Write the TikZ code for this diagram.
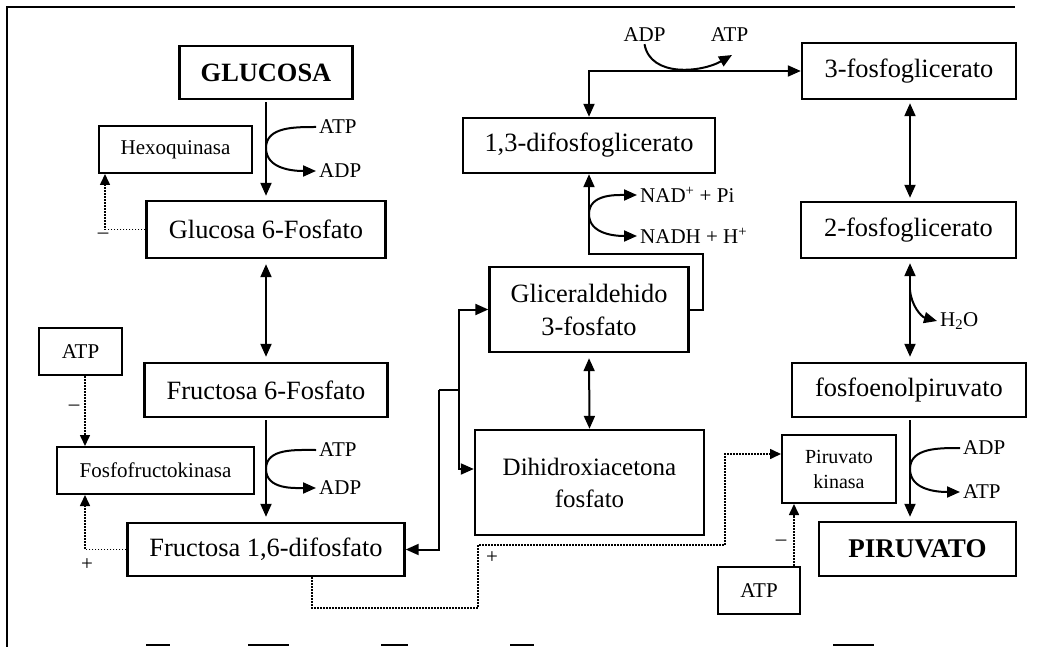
\documentclass[tikz,border=0pt]{standalone}
\usepackage{fontspec}
\setmainfont{Liberation Serif}
\usetikzlibrary{arrows.meta,calc}
\newcommand\fbig{\fontsize{26.4}{33}\selectfont}
\newcommand\fsml{\fontsize{21}{25}\selectfont}
\begin{document}
\begin{tikzpicture}[x=1pt,y=-1pt,
  box/.style={draw, line width=2.4pt, inner sep=0pt, align=center, font=\fbig},
  sbox/.style={draw, line width=2pt, inner sep=0pt, align=center, font=\fsml},
  lbl/.style={font=\fsml, inner xsep=3pt, inner ysep=0pt, anchor=west},
  txt/.style={font=\fsml, inner sep=1pt},
  ln/.style={line width=2pt},
  arr/.style={line width=2pt, -{Triangle[length=13pt,width=11pt]}},
  darr/.style={line width=2pt, {Triangle[length=13pt,width=11pt]}-{Triangle[length=13pt,width=11pt]}},
  dotarr/.style={line width=1.6pt, dash pattern=on 1.6pt off 1.4pt, -{Triangle[length=11pt,width=10pt]}}
]
\useasboundingbox (0,0) rectangle (1063,647);
% frame (scan edges)
\draw[line width=2pt] (7,647) -- (7,7) -- (1015,7);
\foreach \a/\b in {146/170,248/289,381/408,510/534,833/874}
  \draw[line width=2.5pt] (\a,645) -- (\b,645);

% ---------- left column ----------
\node[box, minimum width=173pt, minimum height=53pt, font=\fbig\bfseries] (GLU) at (266,72.5) {GLUCOSA};
\node[sbox, minimum width=153pt, minimum height=47pt] (HEX) at (175.5,149.5) {Hexoquinasa};
\node[box, minimum width=239pt, minimum height=57pt] (G6P) at (266,229.5) {Glucosa 6-Fosfato};
\node[sbox, minimum width=83pt, minimum height=47pt] (ATP1) at (80.5,351.5) {ATP};
\node[box, minimum width=243pt, minimum height=54pt] (F6P) at (266,390) {Fructosa 6-Fosfato};
\node[sbox, minimum width=197pt, minimum height=47pt] (PFK) at (155.5,470.5) {Fosfofructokinasa};
\node[box, minimum width=277pt, minimum height=53pt] (F16) at (266,549.5) {Fructosa 1,6-difosfato};

% ---------- middle column ----------
\node[box, minimum width=252pt, minimum height=55pt] (DPG) at (589,145.5) {1,3-difosfoglicerato};
\node[box, minimum width=199pt, minimum height=85pt] (G3P) at (589,309.5) {Gliceraldehido\\3-fosfato};
\node[box, minimum width=229pt, minimum height=105pt, font=\fontsize{25}{32}\selectfont] (DHAP) at (589.5,482.5) {Dihidroxiacetona\\fosfato};

% ---------- right column ----------
\node[box, minimum width=214pt, minimum height=56pt] (PG3) at (909,71) {3-fosfoglicerato};
\node[box, minimum width=215pt, minimum height=56pt] (PG2) at (908.5,230) {2-fosfoglicerato};
\node[box, minimum width=234pt, minimum height=54pt] (PEP) at (909,390) {fosfoenolpiruvato};
\node[sbox, minimum width=114pt, minimum height=68pt, font=\fontsize{20}{25}\selectfont] (PK) at (839,469) {Piruvato\\kinasa};
\node[sbox, minimum width=82pt, minimum height=47pt] (ATP2) at (759,590.5) {ATP};
\node[box, minimum width=197pt, minimum height=54pt, font=\fontsize{27}{33}\selectfont\bfseries] (PIR) at (917.5,549) {PIRUVATO};

% ---------- labels ----------
\node[lbl] (ATPa) at (316,127) {ATP};
\node[lbl] (ADPa) at (316,171) {ADP};
\node[lbl] (ATPb) at (316,450) {ATP};
\node[lbl] (ADPb) at (316,488) {ADP};
\node[lbl] (NADa) at (637,195) {NAD\textsuperscript{+} + Pi};
\node[lbl] (NADb) at (637,236) {NADH + H\textsuperscript{+}};
\node[txt, inner sep=2pt] (ADPt) at (644.5,35) {ADP};
\node[txt, inner sep=2pt] (ATPt) at (729.5,35) {ATP};
\node[lbl] (H2O) at (937,321) {H\textsubscript{2}O};
\node[lbl] (ADPc) at (960,448) {ADP};
\node[lbl] (ATPc) at (960,492) {ATP};
\node[txt] (m1) at (103,236) {\textendash};
\node[txt] (m2) at (74,408) {\textendash};
\node[txt] (p1) at (87,565) {+};
\node[txt] (p2) at (492,558) {+};
\node[txt] (m3) at (781,543) {\textendash};

% ---------- coordinates ----------
\coordinate (ja) at (266,148);
\coordinate (jb) at (266,469);
\coordinate (hx) at (105,0);
\coordinate (px) at (85,0);
\coordinate (d1) at (312,608);
\coordinate (d2) at (478,545);
\coordinate (d3) at (725,454);
\coordinate (e1) at (794,0);
\coordinate (j1) at (439,390);
\coordinate (j2) at (459,390);
\coordinate (j3) at (459,469);
\coordinate (k1) at (703,254);
\coordinate (jc) at (589,214);
\coordinate (atpTip) at (732,55);
\coordinate (pc) at (910,0);
\coordinate (jd) at (910,290);
\coordinate (je) at (910,469);

% ---------- left connectors ----------
\draw[arr, shorten <=2pt, shorten >=4pt] (GLU.south) -- (G6P.north);
\draw[ln] (ATPa.west) to[out=180,in=90] (ja);
\draw[arr] (ja) to[out=-90,in=180] (ADPa.west);
\draw[dotarr] (G6P.west) -| (HEX.south -| hx);
\draw[darr, shorten <=5pt, shorten >=5pt] (G6P.south) -- (F6P.north);
\draw[arr, shorten <=2pt, shorten >=5pt] (F6P.south) -- (F16.north);
\draw[ln] (ATPb.west) to[out=180,in=90] (jb);
\draw[arr] (jb) to[out=-90,in=180] (ADPb.west);
\draw[dotarr] (ATP1.south -| px) -- (PFK.north -| px);
\draw[dotarr] (F16.west) -| (PFK.south -| px);
\draw[dotarr] (F16.south -| d1) -- (d1) -| (d2) -| (d3) -- (d3 -| PK.west);
\draw[dotarr] (ATP2.north -| e1) -- (PK.south -| e1);

% ---------- middle connectors ----------
\draw[arr] (j1) |- (F16.east);
\draw[ln] (j1) -- (j2);
\draw[arr] (j2) |- (G3P.west);
\draw[arr] (j2) -- (j3) -- (j3 -| DHAP.west);
\draw[darr, shorten <=5pt] (G3P.south) -- (DHAP.north);
\draw[arr] (G3P.east) -| (k1) -| (DPG.south);
\draw[arr] (jc) to[out=90,in=180] (NADa.west);
\draw[arr] (jc) to[out=-90,in=180] (NADb.west);
\draw[darr] (DPG.north) |- (PG3.west);
\draw[arr] (ADPt.south) to[out=-80,in=-150] (atpTip);

% ---------- right connectors ----------
\draw[darr, shorten <=3pt, shorten >=3pt] (PG3.south -| pc) -- (PG2.north -| pc);
\draw[darr, shorten <=4pt, shorten >=5pt] (PG2.south -| pc) -- (PEP.north -| pc);
\draw[arr] (jd) to[out=-85,in=165] (H2O.west);
\draw[arr, shorten <=2pt, shorten >=4pt] (PEP.south -| pc) -- (PIR.north -| pc);
\draw[ln] (ADPc.west) to[out=180,in=90] (je);
\draw[arr] (je) to[out=-90,in=180] (ATPc.west);
\end{tikzpicture}
\end{document}
